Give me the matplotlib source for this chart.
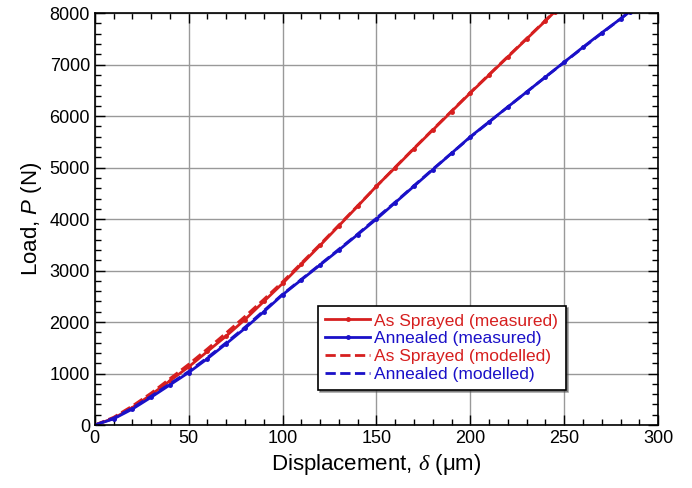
import matplotlib
matplotlib.use("Agg")
import matplotlib.pyplot as plt
from matplotlib.ticker import MultipleLocator

plt.rcParams['font.family'] = ['Liberation Sans', 'DejaVu Sans']
plt.rcParams['mathtext.fontset'] = 'custom'
plt.rcParams['mathtext.it'] = 'Liberation Serif:italic'
plt.rcParams['mathtext.sf'] = 'Liberation Sans:italic'

# As Sprayed (measured)
x_as_meas = [0, 10, 20, 30, 40, 50, 60, 70, 80, 90, 100, 110, 120, 130, 140, 150,
             160, 170, 180, 190, 200, 210, 220, 230, 240, 245]
p_as_meas = [0, 130, 340, 590, 860, 1130, 1430, 1730, 2050, 2400, 2750, 3120, 3490,
             3870, 4250, 4640, 5000, 5370, 5730, 6090, 6450, 6800, 7150, 7500, 7850, 8030]
# Annealed (measured)
x_an_meas = [0, 10, 20, 30, 40, 50, 60, 70, 80, 90, 100, 110, 120, 130, 140, 150,
             160, 170, 180, 190, 200, 210, 220, 230, 240, 250, 260, 270, 280, 285]
p_an_meas = [0, 120, 310, 540, 780, 1020, 1290, 1580, 1880, 2200, 2530, 2820, 3110,
             3400, 3700, 4000, 4320, 4640, 4960, 5280, 5600, 5890, 6180, 6470, 6760,
             7050, 7340, 7620, 7890, 8030]
# As Sprayed (modelled)
x_as_mod = [0, 10, 20, 30, 40, 50, 60, 70, 80, 90, 100, 120, 140, 160, 180, 200, 220, 240, 245]
p_as_mod = [0, 150, 370, 620, 900, 1180, 1480, 1790, 2110, 2440, 2780, 3510, 4260,
            5010, 5740, 6460, 7160, 7860, 8040]
# Annealed (modelled)
x_an_mod = [0, 10, 20, 30, 40, 50, 60, 70, 80, 90, 100, 120, 140, 160, 180, 200,
            220, 240, 260, 280, 285]
p_an_mod = [0, 135, 330, 560, 800, 1040, 1310, 1600, 1900, 2220, 2540, 3120, 3710,
            4330, 4970, 5590, 6180, 6760, 7330, 7890, 8040]

fig = plt.figure(figsize=(6.92, 4.88), dpi=100)
ax = fig.add_axes([0.137, 0.129, 0.814, 0.844])

red = '#d61f1f'
blue = '#1a10c8'
ax.plot(x_as_meas, p_as_meas, '-', color=red, lw=2, marker='o', ms=2.5,
        label='As Sprayed (measured)')
ax.plot(x_an_meas, p_an_meas, '-', color=blue, lw=2, marker='o', ms=2.5,
        label='Annealed (measured)')
ax.plot(x_as_mod, p_as_mod, '--', color=red, lw=2, label='As Sprayed (modelled)')
ax.plot(x_an_mod, p_an_mod, '--', color=blue, lw=2, label='Annealed (modelled)')

ax.set_xlim(0, 300)
ax.set_ylim(0, 8000)
ax.xaxis.set_major_locator(MultipleLocator(50))
ax.xaxis.set_minor_locator(MultipleLocator(10))
ax.yaxis.set_major_locator(MultipleLocator(1000))
ax.yaxis.set_minor_locator(MultipleLocator(200))
ax.tick_params(which='both', direction='in', top=True, right=True, labelsize=13)
ax.tick_params(which='major', length=7, width=1)
ax.tick_params(which='minor', length=4, width=1)
ax.grid(True, which='major', color='#999999', lw=1)
for s in ax.spines.values():
    s.set_linewidth(1.2)

ax.set_xlabel(r'Displacement, $\delta$ (μm)', fontsize=16)
ax.set_ylabel(r'Load, $\mathsf{P}$ (N)', fontsize=16)

leg = ax.legend(loc='lower left', bbox_to_anchor=(0.38, 0.065), fontsize=12.5,
                fancybox=False, shadow=True, edgecolor='black', framealpha=1,
                handlelength=2.6, handletextpad=0.2, labelspacing=0.15,
                borderpad=0.45)
leg.get_frame().set_linewidth(1.2)
for t, c in zip(leg.get_texts(), [red, blue, red, blue]):
    t.set_color(c)

fig.savefig('out.png', dpi=100)
